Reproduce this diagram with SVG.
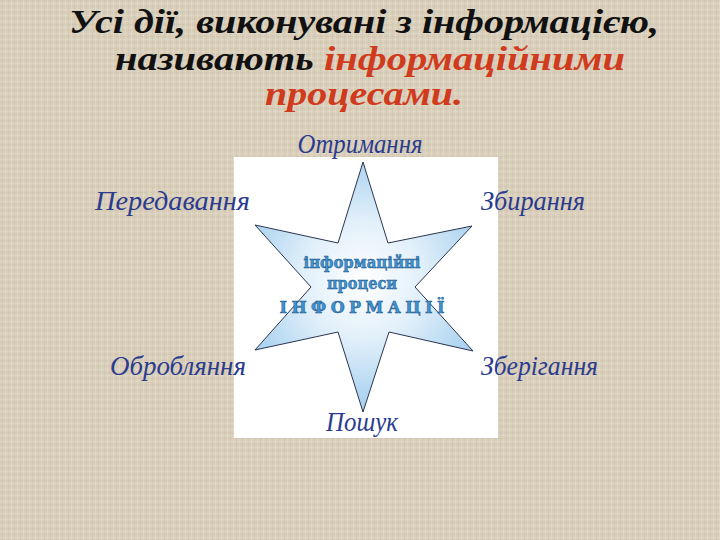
<svg xmlns="http://www.w3.org/2000/svg" width="720" height="540" viewBox="0 0 720 540">
<defs>
<pattern id="linen" width="6" height="6" patternUnits="userSpaceOnUse">
<rect width="6" height="6" fill="#d8ceba"/>
<rect x="0" y="0" width="6" height="1" fill="#cdc2ac" opacity="0.5"/>
<rect x="0" y="3" width="6" height="1" fill="#e4dccb" opacity="0.5"/>
<rect x="2" y="0" width="1" height="6" fill="#ccc0aa" opacity="0.4"/>
<rect x="5" y="0" width="1" height="6" fill="#e6ded0" opacity="0.4"/>
</pattern>
<radialGradient id="starfill" cx="363" cy="280" r="130" gradientUnits="userSpaceOnUse">
<stop offset="0" stop-color="#ffffff"/>
<stop offset="0.45" stop-color="#e2f0fa"/>
<stop offset="1" stop-color="#a4cfee"/>
</radialGradient>
<style>
.title{font-family:"Liberation Serif","DejaVu Serif",serif;font-weight:bold;font-style:italic;font-size:33px;fill:#111}
.red{fill:#cf3b1c}
.lbl{font-family:"Liberation Serif","DejaVu Serif",serif;font-style:italic;font-size:28px;fill:#2b3c8e}
.ctr{font-family:"DejaVu Serif","Liberation Serif",serif;font-weight:bold;fill:#3d93cf;stroke:#1c4f86;stroke-width:0.5}
</style>
</defs>
<rect width="720" height="540" fill="url(#linen)"/>
<g id="title">
<text class="title" x="364" y="33" text-anchor="middle" textLength="590" lengthAdjust="spacingAndGlyphs">Усі дії, виконувані з інформацією,</text>
<text class="title" x="370" y="70" text-anchor="middle" textLength="510" lengthAdjust="spacingAndGlyphs">називають <tspan class="red">інформаційними</tspan></text>
<text class="title red" x="364" y="105" text-anchor="middle" textLength="198" lengthAdjust="spacingAndGlyphs">процесами.</text>
</g>
<g id="panel">
<rect x="234" y="157" width="264" height="281" fill="#ffffff"/>
</g>
<g id="star">
<polygon points="363,162 388,243 472,226 415,287 473,351 389,332 363,412 338,332 255,350 311,287 255,225 338,243" fill="url(#starfill)" stroke="#2b3550" stroke-width="1"/>
<text class="ctr" x="362" y="268" text-anchor="middle" font-size="17" textLength="117" lengthAdjust="spacingAndGlyphs">інформаційні</text>
<text class="ctr" x="362" y="289" text-anchor="middle" font-size="17" textLength="70" lengthAdjust="spacingAndGlyphs">процеси</text>
<text class="ctr" x="362" y="313" text-anchor="middle" font-size="16" textLength="165" lengthAdjust="spacing">ІНФОРМАЦІЇ</text>
</g>
<g id="n-otrymannia"><text class="lbl" x="360" y="153" text-anchor="middle" textLength="125" lengthAdjust="spacingAndGlyphs">Отримання</text></g>
<g id="n-peredavannia"><text class="lbl" x="95" y="210" textLength="155" lengthAdjust="spacingAndGlyphs">Передавання</text></g>
<g id="n-zbyrannia"><text class="lbl" x="481" y="210" textLength="104" lengthAdjust="spacingAndGlyphs">Збирання</text></g>
<g id="n-obrobliannia"><text class="lbl" x="110" y="375" textLength="136" lengthAdjust="spacingAndGlyphs">Обробляння</text></g>
<g id="n-zberihannia"><text class="lbl" x="481" y="375" textLength="117" lengthAdjust="spacingAndGlyphs">Зберігання</text></g>
<g id="n-poshuk"><text class="lbl" x="362" y="431" text-anchor="middle" textLength="72" lengthAdjust="spacingAndGlyphs">Пошук</text></g>
<g id="connectors"></g>
</svg>
